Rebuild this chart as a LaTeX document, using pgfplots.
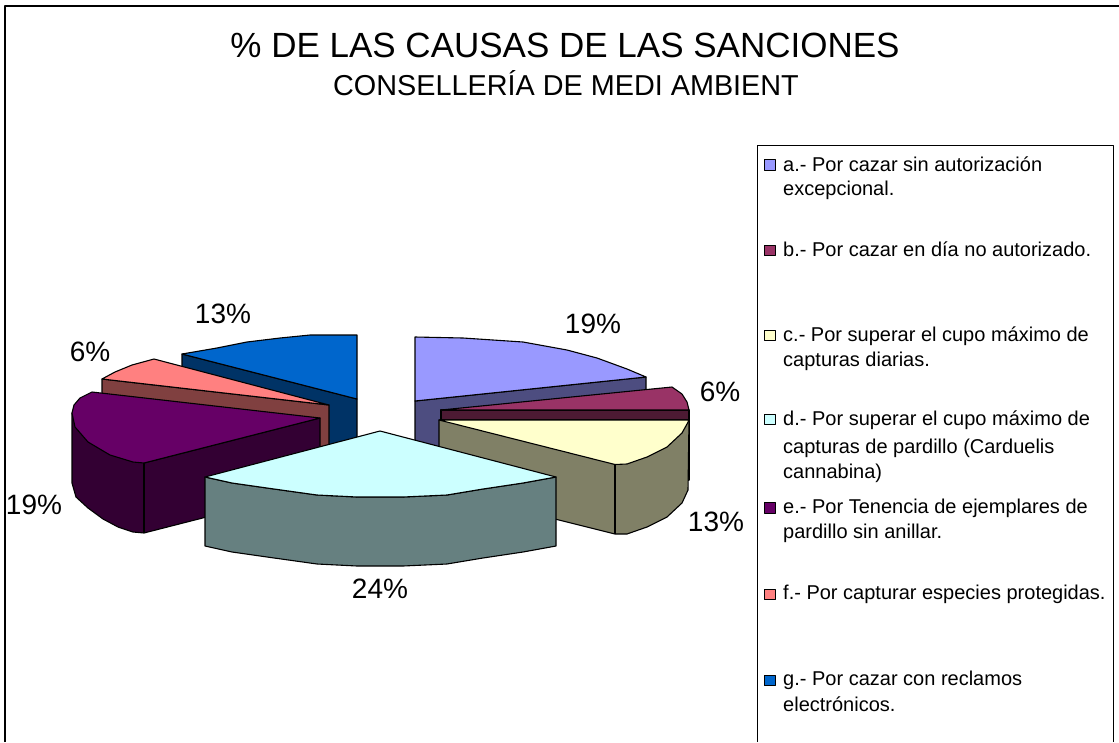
\documentclass[border=0pt]{standalone}
\usepackage{pgfplots}
\pgfplotsset{compat=1.18}
\usepackage{fontspec}
\setmainfont{Liberation Sans}
\newcommand{\fs}[1]{\fontsize{#1}{#1}\selectfont}
\definecolor{aT}{HTML}{9999FF}\definecolor{aS}{HTML}{4D4D80}
\definecolor{bT}{HTML}{993366}\definecolor{bS}{HTML}{4D1A33}
\definecolor{cT}{HTML}{FFFFCC}\definecolor{cS}{HTML}{808066}
\definecolor{dT}{HTML}{CCFFFF}\definecolor{dS}{HTML}{668080}
\definecolor{eT}{HTML}{660066}\definecolor{eS}{HTML}{330033}
\definecolor{fT}{HTML}{FF8080}\definecolor{fS}{HTML}{804040}
\definecolor{gT}{HTML}{0066CC}\definecolor{gS}{HTML}{003366}
\tikzset{lbl/.style={font=\fs{28},anchor=center,inner sep=0pt},
  leg/.style={font=\fs{20},anchor=base west,inner sep=0pt}}
\begin{document}
\begin{tikzpicture}
\path[use as bounding box] (0,0) rectangle (1119pt,742pt);
\begin{axis}[
  at={(0,0)},anchor=south west,
  width=1119pt,height=742pt,scale only axis,
  xmin=0,xmax=1119,ymin=0,ymax=742,y dir=reverse,
  hide axis,clip=true,
  every axis plot/.append style={draw=black,line width=1.1pt,line join=round,mark=none},
]
% chart frame
\addplot[line width=2pt] coordinates {(5,742)(5,6)(1119,6)};
% legend frame
\addplot[line width=1pt] coordinates {(757,742)(757,145)(1113,145)(1113,742)};
% g
\addplot[fill=gS] coordinates {(182,354)(357,399)(357,469)(182,424)} -- cycle;
\addplot[fill=gT] coordinates {(182,354)(217,348)(247,342)(280,338)(310,335)(357,335)(357,399)} -- cycle;
% a
\addplot[fill=aS] coordinates {(415,401)(646,377)(646,447)(415,471)} -- cycle;
\addplot[fill=aT] coordinates {(415,337)(463,338)(523,342)(567,350)(597,358)(627,369)(646,377)(415,401)} -- cycle;
% f
\addplot[fill=fS] coordinates {(102,379)(329,405)(329,475)(102,449)} -- cycle;
\addplot[fill=fT] coordinates {(102,379)(115,372)(132,365)(154,359)(329,405)} -- cycle;
% b
\addplot[fill=bS] coordinates {(441,410)(689,410)(689,480)(441,480)} -- cycle;
\addplot[fill=bT] coordinates {(441,410)(672,387)(682,394)(687,402)(689,410)} -- cycle;
% e
\addplot[fill=eS] coordinates {(320,418)(320,488)(144,533)(133,532)(118,527)(103,519)(88,508)(76,497)(72,483)(72,413)(144,463)} -- cycle;
\addplot[fill=eT] coordinates {(92,392)(80,398)(74,405)(72,413)(75,427)(88,442)(110,455)(133,462)(144,463)(320,418)} -- cycle;
\addplot[draw=black] coordinates {(144,463)(144,533)};
% c
\addplot[fill=cS] coordinates {(439,420)(439,490)(615,534)(627,534)(647,527)(667,517)(682,503)(688,490)(689,420)} -- cycle;
\addplot[fill=cT] coordinates {(439,420)(689,420)(687,424)(682,433)(667,447)(647,457)(627,464)(615,464.5)} -- cycle;
\addplot[draw=black] coordinates {(615,464.5)(615,534)};
% d
\addplot[fill=dS] coordinates {(205,477)(232,483)(267,488)(317,495)(357,497)(403,497)(447,495)(483,489)(523,483)(556,477)(556,546)(523,552)(483,558)(447,564)(403,566)(357,566)(317,564)(267,557)(232,552)(205,546)} -- cycle;
\addplot[fill=dT] coordinates {(380,431)(556,477)(523,483)(483,489)(447,495)(403,497)(357,497)(317,495)(267,488)(232,483)(205,477)} -- cycle;
% legend swatches
\addplot[fill=aT,line width=1pt] coordinates {(764,159.5)(775,159.5)(775,170)(764,170)} -- cycle;
\addplot[fill=bT,line width=1pt] coordinates {(764,245)(775,245)(775,255.5)(764,255.5)} -- cycle;
\addplot[fill=cT,line width=1pt] coordinates {(764,330)(775,330)(775,340.5)(764,340.5)} -- cycle;
\addplot[fill=dT,line width=1pt] coordinates {(764,414)(775,414)(775,424.5)(764,424.5)} -- cycle;
\addplot[fill=eT,line width=1pt] coordinates {(764,502)(775,502)(775,513)(764,513)} -- cycle;
\addplot[fill=fT,line width=1pt] coordinates {(764,589)(775,589)(775,599.5)(764,599.5)} -- cycle;
\addplot[fill=gT,line width=1pt] coordinates {(764,675)(775,675)(775,685.5)(764,685.5)} -- cycle;
% titles
\node[font=\fs{35},anchor=base,inner sep=0pt] at (axis cs:565,57) {\% DE LAS CAUSAS DE LAS SANCIONES};
\node[font=\fs{28.8},anchor=base,inner sep=0pt] at (axis cs:566,95) {CONSELLERÍA DE MEDI AMBIENT};
% value labels
\node[lbl] at (axis cs:593,324) {19\%};
\node[lbl] at (axis cs:720,392) {6\%};
\node[lbl] at (axis cs:716,522) {13\%};
\node[lbl] at (axis cs:380,589) {24\%};
\node[lbl] at (axis cs:34,505) {19\%};
\node[lbl] at (axis cs:90,352) {6\%};
\node[lbl] at (axis cs:223,314) {13\%};
% legend text
\node[leg] at (axis cs:783,171) {a.- Por cazar sin autorización};
\node[leg] at (axis cs:783,195) {excepcional.};
\node[leg] at (axis cs:783,256) {b.- Por cazar en día no autorizado.};
\node[leg] at (axis cs:783,341) {c.- Por superar el cupo máximo de};
\node[leg] at (axis cs:783,366) {capturas diarias.};
\node[leg] at (axis cs:783,425) {d.- Por superar el cupo máximo de};
\node[leg] at (axis cs:783,453) {capturas de pardillo (Carduelis};
\node[leg] at (axis cs:783,478) {cannabina)};
\node[leg] at (axis cs:783,513) {e.- Por Tenencia de ejemplares de};
\node[leg] at (axis cs:783,538) {pardillo sin anillar.};
\node[leg] at (axis cs:783,599) {f.- Por capturar especies protegidas.};
\node[leg] at (axis cs:783,685) {g.- Por cazar con reclamos};
\node[leg] at (axis cs:783,711) {electrónicos.};
\end{axis}
\end{tikzpicture}
\end{document}
